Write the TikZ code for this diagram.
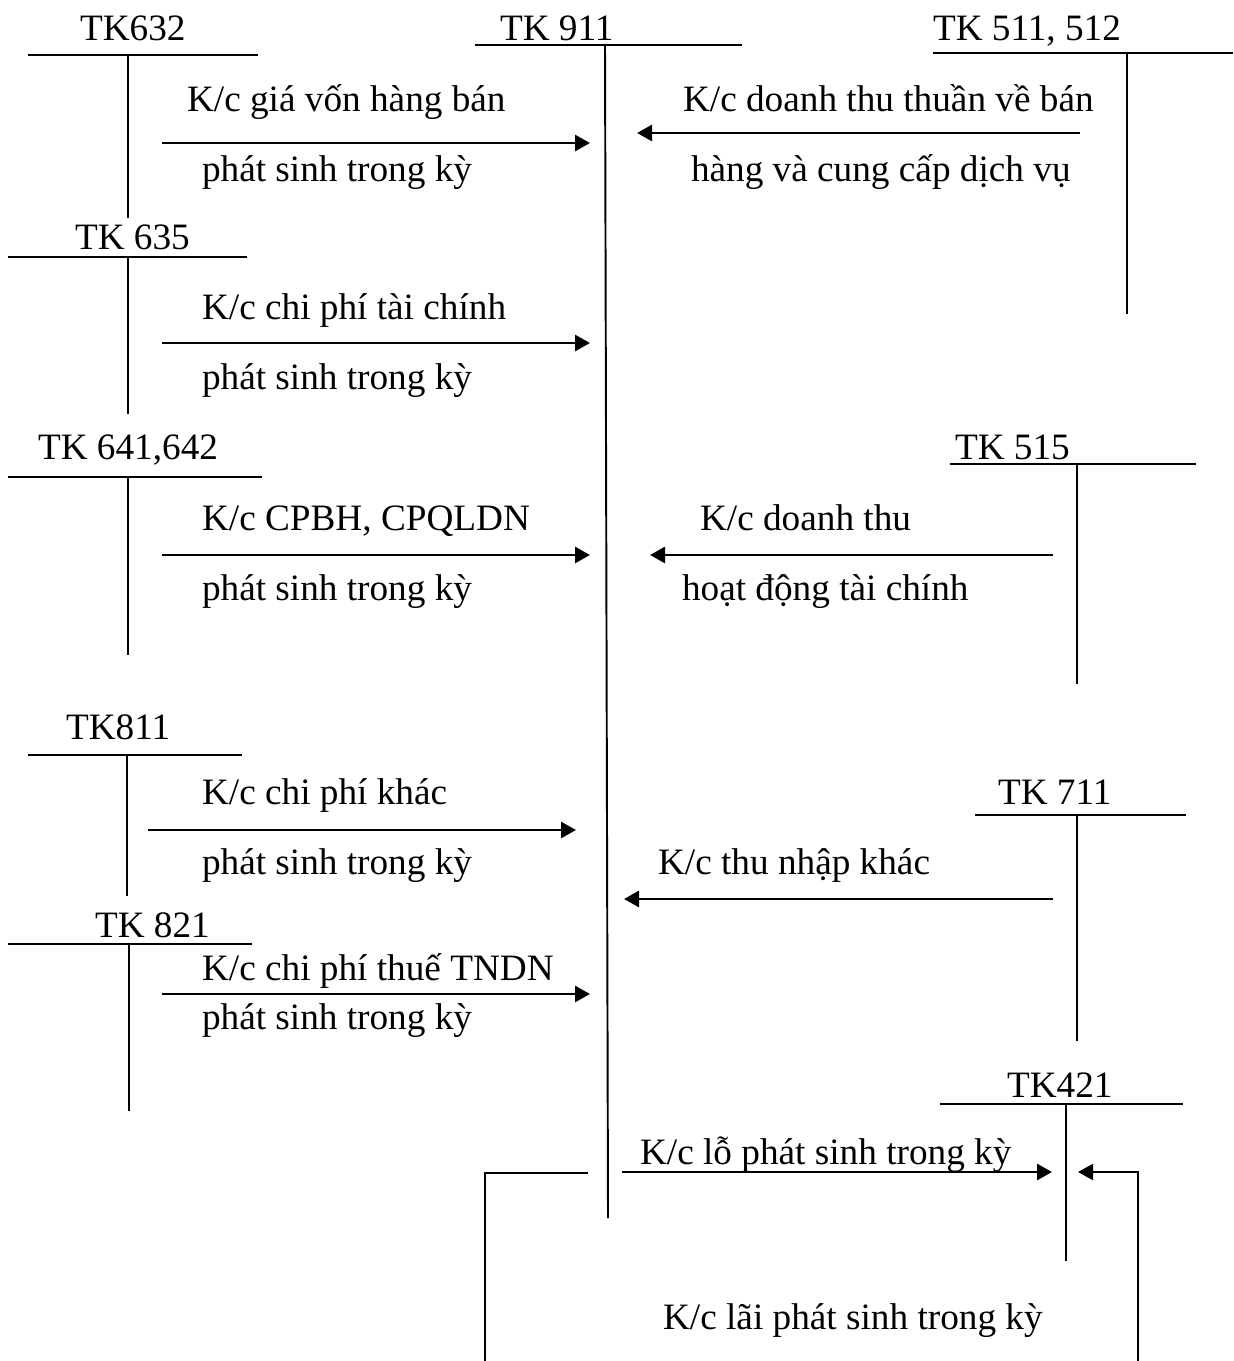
\documentclass[tikz,border=0pt]{standalone}
\usepackage{fontspec}
\setmainfont{Liberation Serif}
\usepackage{tikz}
\usetikzlibrary{arrows.meta,positioning}

\begin{document}
\begin{tikzpicture}[
    x=0.02cm, y=-0.02cm,
    every node/.style={inner sep=0pt, outer sep=0pt, anchor=base west, font=\fontsize{21.2}{25}\selectfont},
    tline/.style={line width=1.1pt},
    arrow/.style={line width=1.6pt, -{Triangle[length=0.3cm,width=0.32cm]}}
]
    \useasboundingbox (0,0) rectangle (1233,1361);

    % Account titles
    \node (t632) at (80,41) {TK632};
    \node (t911) at (500,41) {TK 911};
    \node (t511) at (933,41) {TK 511, 512};
    \node (t635) at (75,250) {TK 635};
    \node (t641) at (38,459) {TK 641,642};
    \node (t515) at (955,459) {TK 515};
    \node (t811) at (66,739) {TK811};
    \node (t711) at (998,804) {TK 711};
    \node (t821) at (95,937) {TK 821};
    \node (t421) at (1007,1097) {TK421};

    % T accounts (top line, then side)
    \foreach \xl/\xr/\hy/\vx/\vb in {28/258/55/128/218,
        933/1233/53/1127/314, 8/247/257/128/414, 8/262/477/128/655,
        950/1196/464/1077/684, 28/242/755/127/896, 975/1186/815/1077/1041,
        8/252/944/129/1111, 940/1183/1104/1066/1261} {
        \draw[tline] (\xl,\hy) -- (\xr,\hy);
        \draw[tline] (\vx,\hy) -- (\vx,\vb);
    }
    % TK 911 (its side leans a little)
    \draw[tline] (475,45) -- (742,45);
    \draw[tline] (605,45) -- (608,1218);

    % Transfers to and from TK 911
    \foreach \acc/\xs/\xe/\ay in {632/162/590/143, 511/1080/637/133,
        635/162/590/343, 641/162/590/555, 515/1053/650/555,
        811/148/576/830, 711/1053/624/899, 821/162/590/994, 421/622/1052/1172} {
        \coordinate (s\acc) at (\xs,\ay);
        \coordinate (e\acc) at (\xe,\ay);
        \draw[arrow] (s\acc) -- (e\acc);
    }

    % Labels
    \node (k632) at (187,112) {K/c giá vốn hàng bán};
    \node (p632) at (202,182) {phát sinh trong kỳ};
    \node (k511) at (683,112) {K/c doanh thu thuần về bán};
    \node (p511) at (691,182) {hàng và cung cấp dịch vụ};
    \node (k635) at (202,320) {K/c chi phí tài chính};
    \node (p635) at (202,390) {phát sinh trong kỳ};
    \node (k641) at (202,530) {K/c CPBH, CPQLDN};
    \node (p641) at (202,600) {phát sinh trong kỳ};
    \node (k515) at (700,530) {K/c doanh thu};
    \node (p515) at (682,600) {hoạt động tài chính};
    \node (k811) at (202,804) {K/c chi phí khác};
    \node (p811) at (202,874) {phát sinh trong kỳ};
    \node (k711) at (658,874) {K/c thu nhập khác};
    \node (k821) at (202,980) {K/c chi phí thuế TNDN};
    \node (p821) at (202,1029) {phát sinh trong kỳ};
    \node (klo) at (640,1164) {K/c lỗ phát sinh trong kỳ};
    \node (klai) at (663,1329) {K/c lãi phát sinh trong kỳ};

    % Profit path to TK421
    \coordinate (lai1) at (588,1173);
    \coordinate (lai2) at (485,1361);
    \coordinate (lai3) at (1138,1361);
    \coordinate (lai4) at (1078,1172);
    \draw[tline] (lai1) -| (lai2);
    \draw[arrow, line width=1.3pt] (lai3) |- (lai4);
\end{tikzpicture}
\end{document}
